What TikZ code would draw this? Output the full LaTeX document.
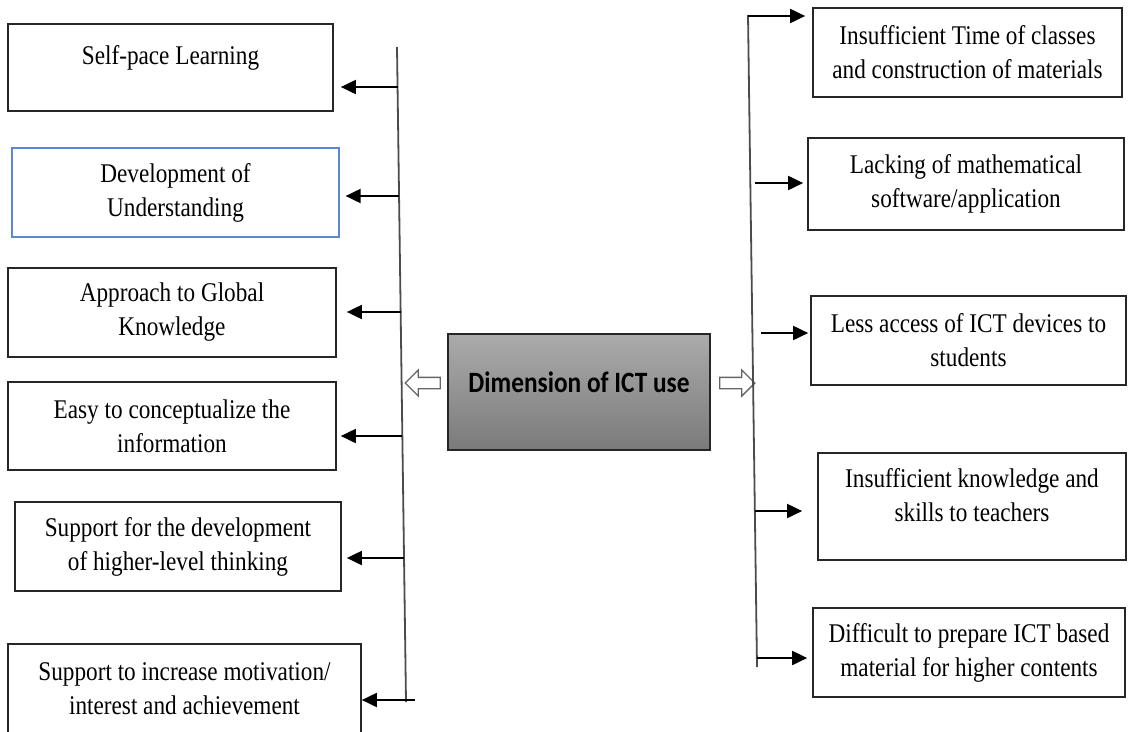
\documentclass[tikz,border=0pt]{standalone}
\usepackage{fontspec}
\setmainfont{Liberation Serif}[FakeStretch=0.86]
\newfontfamily\headfont{Carlito}[FakeStretch=0.86]
\usetikzlibrary{arrows.meta,shapes.arrows}
\definecolor{boxblue}{RGB}{91,135,214}
\begin{document}
\begin{tikzpicture}[x=1pt,y=-1pt,
	box/.style={draw=black!85,line width=1.7pt,inner sep=0pt,align=center,font=\fontsize{27pt}{34pt}\selectfont},
	core/.style={draw=black!85,line width=1.7pt,inner sep=0pt,top color=black!33,bottom color=black!52,font=\headfont\bfseries\fontsize{29.5pt}{32pt}\selectfont},
	trunk/.style={draw=black!70,line width=1.8pt},
	arr/.style={-{Triangle[length=15pt,width=14pt]},line width=1.9pt,shorten >=#1},
	arr/.default=6pt,
	hollow/.style={single arrow,draw=black!60,line width=1.3pt,fill=white,inner sep=0pt,text height=5pt,text depth=5pt,minimum height=35pt,single arrow head extend=7.5pt,single arrow head indent=0pt}]
		\useasboundingbox (0,0) rectangle (1139,731);
		\node[core,minimum width=262pt,minimum height=116pt,text depth=20pt] (ict) at (579,392) {Dimension of ICT use};
		\node[hollow,shape border rotate=180] (lout) at (425.5,383) {};
		\node[hollow] (rout) at (734.5,383) {};
		% advantages
		\node[box,minimum width=325pt,minimum height=87pt,text depth=26pt] (self) at (170.5,67.5) {Self-pace Learning};
		\node[box,draw=boxblue,line width=1.2pt,minimum width=327pt,minimum height=89pt] (under) at (175.5,192.5) {Development of\\Understanding};
		\node[box,minimum width=328pt,minimum height=89pt] (glob) at (172,312.5) {Approach to Global\\Knowledge};
		\node[box,minimum width=328pt,minimum height=88pt] (easy) at (172,426) {Easy to conceptualize the\\information};
		\node[box,minimum width=326pt,minimum height=89pt] (high) at (178,546.5) {Support for the development\\of higher-level thinking};
		\node[box,minimum width=353pt,minimum height=89pt] (motiv) at (184.5,688.5) {Support to increase motivation/\\interest and achievement};
		\coordinate (ltop) at (397,47);
		\coordinate (lbot) at (406,702);
		\coordinate (l1) at (398,87);
		\coordinate (l2) at (399,196);
		\coordinate (l3) at (401,312);
		\coordinate (l4) at (402,436);
		\coordinate (l5) at (404,558);
		\coordinate (l6) at (415,700);
		\draw[trunk] (ltop) -- (lbot);
		\draw[arr=7pt] (l1) -- (l1 -| self.east);
		\draw[arr] (l2) -- (l2 -| under.east);
		\draw[arr=10pt] (l3) -- (l3 -| glob.east);
		\draw[arr=4pt] (l4) -- (l4 -| easy.east);
		\draw[arr=5pt] (l5) -- (l5 -| high.east);
		\draw[arr=0pt] (l6) -- (l6 -| motiv.east);
		% challenges
		\node[box,minimum width=309pt,minimum height=89pt] (time) at (967.5,52.5) {Insufficient Time of classes\\and construction of materials};
		\node[box,minimum width=316pt,minimum height=92pt] (soft) at (966,184) {Lacking of mathematical\\software/application};
		\node[box,minimum width=315pt,minimum height=89pt] (access) at (968.5,340.5) {Less access of ICT devices to\\students};
		\node[box,minimum width=308pt,minimum height=107pt,text depth=24pt] (skill) at (972,506.5) {Insufficient knowledge and\\skills to teachers};
		\node[box,minimum width=312pt,minimum height=89pt] (prep) at (969,652.5) {Difficult to prepare ICT based\\material for higher contents};
		\coordinate (rtop) at (748,15);
		\coordinate (rbot) at (757,667);
		\coordinate (r1) at (748,16);
		\coordinate (r2) at (755,183);
		\coordinate (r3) at (761,333);
		\coordinate (r4) at (755,511);
		\coordinate (r5) at (757,658);
		\draw[trunk] (rtop) -- (rbot);
		\draw[arr=7pt] (r1) -- (r1 -| time.west);
		\draw[arr=4pt] (r2) -- (r2 -| soft.west);
		\draw[arr=2pt] (r3) -- (r3 -| access.west);
		\draw[arr=15pt] (r4) -- (r4 -| skill.west);
		\draw[arr=5pt] (r5) -- (r5 -| prep.west);
\end{tikzpicture}
\end{document}
